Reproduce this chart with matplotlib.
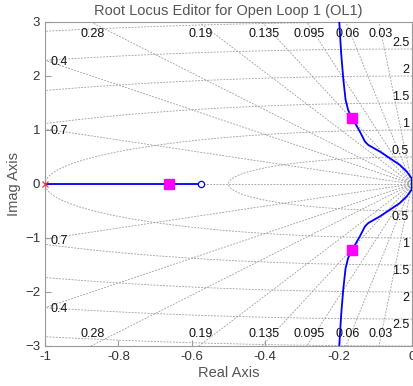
import numpy as np
import matplotlib
matplotlib.use('Agg')
import matplotlib.pyplot as plt

plt.rcParams['font.family'] = ['Liberation Sans', 'DejaVu Sans']

# root locus branches (upper half, lower is the mirror)
loc_x = [0.0, -0.001, -0.014, -0.033, -0.060, -0.087, -0.119, -0.128, -0.142,
         -0.155, -0.164, -0.174, -0.181, -0.187, -0.193, -0.198, -0.200]
loc_y = [0.0, 0.106, 0.228, 0.352, 0.476, 0.598, 0.722, 0.783, 0.969,
         1.124, 1.217, 1.37, 1.56, 1.93, 2.42, 2.98, 3.1]
real_branch = [-1.0, -0.575]
poles = [-1.0]
zeros = [-0.575]
cl_x = [-0.164, -0.164, -0.662]
cl_y = [1.217, -1.217, 0.0]

zetas = [0.03, 0.06, 0.095, 0.135, 0.19, 0.28, 0.4, 0.7]
zeta_top = ['0.03', '0.06', '0.095', '0.135', '0.19', '0.28']
zeta_left = ['0.4', '0.7']
wns = [0.5, 1, 1.5, 2, 2.5, 3]
wn_labels = ['0.5', '1', '1.5', '2', '2.5']

gcol = '#9c9c9c'
dash = (0, (2.2, 1.6))
fig = plt.figure(figsize=(4.14, 3.86), dpi=100)
ax = fig.add_axes([45/414, 40/386, 367/414, 324/386])

# damping lines
for z in zetas:
    r = np.sqrt(1 - z**2) / z
    xs = np.array([0, -10])
    ax.plot(xs, -r*xs, ls=dash, lw=0.6, color=gcol, zorder=1)
    ax.plot(xs, r*xs, ls=dash, lw=0.6, color=gcol, zorder=1)
ax.plot([-1, 0], [0, 0], ls=dash, lw=0.6, color=gcol, zorder=1)

# natural frequency circles
th = np.linspace(np.pi/2, 3*np.pi/2, 400)
for w in wns:
    ax.plot(w*np.cos(th), w*np.sin(th), ls=dash, lw=0.6, color=gcol, zorder=1)

# labels
for z, lab in zip(zetas, zeta_top):
    r = np.sqrt(1 - z**2) / z
    ax.text(-3/r + 0.005, 2.78, lab, ha='center', va='center', fontsize=9, color='#111111')
    ax.text(-3/r + 0.005, -2.78, lab, ha='center', va='center', fontsize=9, color='#111111')
for z, lab in zip(zetas[6:], zeta_left):
    r = np.sqrt(1 - z**2) / z
    ax.text(-0.985, r - 0.03, lab, ha='left', va='center', fontsize=9, color='#111111')
    ax.text(-0.985, -r - 0.03, lab, ha='left', va='center', fontsize=9, color='#111111')
for w, lab in zip(wns, wn_labels):
    ax.text(-0.008, w + 0.12, lab, ha='right', va='center', fontsize=9, color='#111111')
    ax.text(-0.008, -w - 0.12, lab, ha='right', va='center', fontsize=9, color='#111111')

# locus
ax.plot(loc_x, loc_y, color='#0000ff', lw=1.3, zorder=3)
ax.plot(loc_x, [-v for v in loc_y], color='#0000ff', lw=1.3, zorder=3)
ax.plot(real_branch, [0, 0], color='#0000ff', lw=1.3, zorder=3)
ax.plot(poles, [0]*len(poles), 'x', color='#ff3030', ms=5, mew=0.9, zorder=4, clip_on=False)
ax.plot(zeros, [0]*len(zeros), 'o', mfc='white', mec='#0000ff', ms=4.5, mew=0.9, zorder=4)
ax.plot(cl_x, cl_y, 's', color='#ff00ff', ms=6.5, zorder=5)

ax.set_xlim(-1, 0)
ax.set_ylim(-3, 3)
ax.set_xticks([-1, -0.8, -0.6, -0.4, -0.2, 0])
ax.set_xticklabels(['-1', '-0.8', '-0.6', '-0.4', '-0.2', '0'])
ax.set_yticks([-3, -2, -1, 0, 1, 2, 3])
ax.tick_params(direction='in', length=4, color=gcol, labelsize=9.5, labelcolor='#333333')
for s in ax.spines.values():
    s.set_color('#999999')
ax.set_title('Root Locus Editor for Open Loop 1 (OL1)', fontsize=10.5, color='#555555', pad=5)
ax.set_xlabel('Real Axis', fontsize=10.5, color='#555555', labelpad=2)
ax.set_ylabel('Imag Axis', fontsize=10.5, color='#555555', labelpad=3)

fig.savefig('out.png', dpi=100)
